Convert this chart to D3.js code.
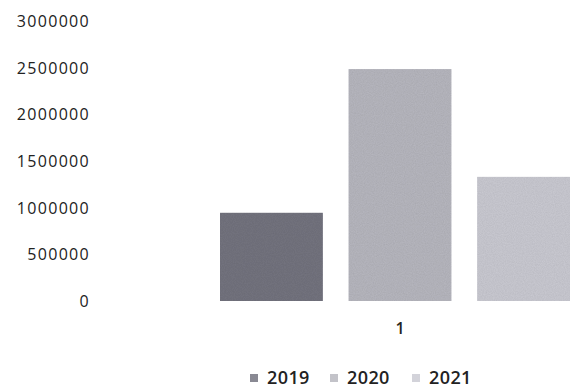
<!DOCTYPE html>
<html>
<head>
<meta charset="utf-8">
<script src="https://cdn.jsdelivr.net/npm/d3@7/dist/d3.min.js"></script>
<style>
  html, body { margin: 0; padding: 0; background: #fff; }
  svg { display: block; }
  .tick text { font-family: "Open Sans", sans-serif; }
</style>
</head>
<body>
<svg id="chart" width="570" height="389"></svg>
<script>
// ---- data ----
const categories = ["1"];
const seriesNames = ["2019", "2020", "2021"];
const seriesValues = [945000, 2485000, 1330000];
const yTickValues = [0, 500000, 1000000, 1500000, 2000000, 2500000, 3000000];
const seriesColors = ["#747480", "#b8b8c0", "#cbcbd3"];

const svg = d3.select("#chart");

const plotLeft = 105, plotRight = 695, plotTop = 21, plotBottom = 301;

const y = d3.scaleLinear().domain([0, 3000000]).range([plotBottom, plotTop]);

const x0 = d3.scaleBand().domain(categories).range([plotLeft, plotRight])
  .paddingInner(0).paddingOuter((590 / 360 - 1) / 2);
const x1 = d3.scaleBand().domain(seriesNames).range([0, x0.bandwidth()])
  .paddingInner(0.2).paddingOuter(0);

// subtle scan-like noise
const defs = svg.append("defs");
const f = defs.append("filter").attr("id", "grain").attr("x", 0).attr("y", 0).attr("width", 1).attr("height", 1);
f.append("feTurbulence").attr("type", "fractalNoise").attr("baseFrequency", 0.9).attr("numOctaves", 2).attr("seed", 3).attr("result", "noise");
f.append("feColorMatrix").attr("in", "noise").attr("type", "matrix")
  .attr("values", "0 0 0 0 0  0 0 0 0 0  0 0 0 0 0  0 0 0 0.18 0").attr("result", "n2");
f.append("feComposite").attr("in", "n2").attr("in2", "SourceGraphic").attr("operator", "in").attr("result", "n3");
f.append("feMerge").selectAll("feMergeNode").data(["SourceGraphic", "n3"]).join("feMergeNode").attr("in", d => d);

// y axis
const yAxis = d3.axisLeft(y).tickValues(yTickValues).tickSize(0).tickPadding(0)
  .tickFormat(d3.format("d"));
const gy = svg.append("g").attr("transform", "translate(90,0)").call(yAxis);
gy.select(".domain").remove();
gy.selectAll(".tick text")
  .attr("fill", "#222")
  .style("font-size", "16px")
  .style("font-weight", "500")
  .style("letter-spacing", "1.3px")
  .attr("dy", "0.35em");

// bars
const g = svg.append("g");
const cat = g.selectAll("g.cat").data(categories).join("g")
  .attr("class", "cat")
  .attr("transform", d => `translate(${x0(d)},0)`);
cat.selectAll("rect").data(seriesNames.map((s, i) => ({ s, v: seriesValues[i], c: seriesColors[i] })))
  .join("rect")
  .attr("x", d => x1(d.s))
  .attr("y", d => y(d.v))
  .attr("width", x1.bandwidth())
  .attr("height", d => y(0) - y(d.v))
  .attr("fill", d => d.c)
  .attr("filter", "url(#grain)");

// x axis label
const xAxis = d3.axisBottom(x0).tickSize(0).tickPadding(0);
const gx = svg.append("g").attr("transform", `translate(0,${plotBottom + 22})`).call(xAxis);
gx.select(".domain").remove();
gx.selectAll(".tick text")
  .attr("fill", "#222")
  .style("font-size", "16px")
  .style("font-weight", "600")
  .attr("dy", "0.71em");

// legend
const legendX = [250, 330, 412];
const lg = svg.append("g").attr("class", "legend");
const items = lg.selectAll("g").data(seriesNames).join("g")
  .attr("transform", (d, i) => `translate(${legendX[i]},378)`);
items.append("rect").attr("x", 0).attr("y", -4).attr("width", 8).attr("height", 8)
  .attr("fill", (d, i) => seriesColors[i]).attr("opacity", 0.85);
items.append("text").attr("x", 17).attr("dy", "0.36em")
  .attr("fill", "#222")
  .style("font-family", "'Open Sans', sans-serif")
  .style("font-size", "18px")
  .style("font-weight", "600")
  .style("letter-spacing", "0.4px")
  .text(d => d);
</script>
</body>
</html>
